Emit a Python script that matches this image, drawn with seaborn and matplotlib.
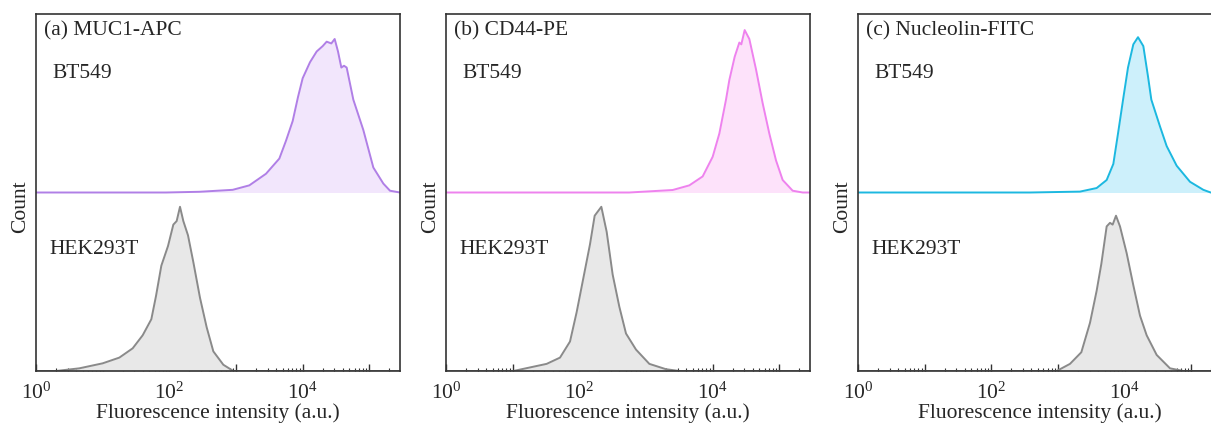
import numpy as np
import pandas as pd
import seaborn as sns
import matplotlib.pyplot as plt
from matplotlib.ticker import LogLocator, FuncFormatter, NullFormatter

sns.set_style('white')
plt.rcParams['font.family'] = ['Liberation Serif', 'DejaVu Serif']
plt.rcParams['mathtext.fontset'] = 'custom'
plt.rcParams['mathtext.rm'] = 'Liberation Serif'
plt.rcParams['mathtext.default'] = 'regular'

# curves: x as log10(intensity), y as relative count (0..1)
muc1_bt_x = [0.0, 1.0, 1.95, 2.45, 2.95, 3.20, 3.45, 3.65, 3.75, 3.85, 3.93, 4.00, 4.11, 4.21,
             4.30, 4.36, 4.43, 4.48, 4.53, 4.58, 4.62, 4.66, 4.76, 4.91, 5.06, 5.21, 5.31, 5.46]
muc1_bt_y = [0.0, 0.0, 0.0, 0.004, 0.015, 0.04, 0.105, 0.19, 0.29, 0.40, 0.535, 0.64, 0.73, 0.79,
             0.82, 0.845, 0.835, 0.86, 0.79, 0.70, 0.71, 0.70, 0.52, 0.35, 0.14, 0.05, 0.01, 0.0]
muc1_hek_x = [0.0, 0.30, 0.65, 1.00, 1.25, 1.45, 1.60, 1.73, 1.80, 1.88, 1.98, 2.06, 2.11, 2.16,
              2.21, 2.28, 2.36, 2.46, 2.56, 2.66, 2.81, 2.96, 5.46]
muc1_hek_y = [0.0, 0.0, 0.015, 0.043, 0.075, 0.127, 0.20, 0.29, 0.42, 0.59, 0.70, 0.82, 0.84, 0.92,
              0.84, 0.76, 0.61, 0.41, 0.245, 0.11, 0.035, 0.0, 0.0]

cd44_bt_x = [0.0, 2.75, 3.40, 3.65, 3.85, 4.00, 4.10, 4.20, 4.25, 4.33, 4.40, 4.43, 4.48, 4.55,
             4.65, 4.75, 4.85, 4.95, 5.05, 5.20, 5.35, 5.46]
cd44_bt_y = [0.0, 0.0, 0.014, 0.04, 0.09, 0.20, 0.33, 0.52, 0.63, 0.76, 0.84, 0.83, 0.91, 0.86,
             0.69, 0.50, 0.33, 0.18, 0.07, 0.01, 0.0, 0.0]
cd44_hek_x = [0.0, 1.01, 1.51, 1.71, 1.86, 1.96, 2.06, 2.16, 2.23, 2.33, 2.41, 2.50, 2.60, 2.70,
              2.85, 3.05, 3.30, 3.50, 5.46]
cd44_hek_y = [0.0, 0.0, 0.04, 0.075, 0.165, 0.33, 0.52, 0.71, 0.87, 0.92, 0.78, 0.54, 0.36, 0.21,
              0.12, 0.04, 0.01, 0.0, 0.0]

ncl_bt_x = [0.0, 2.58, 3.33, 3.58, 3.73, 3.83, 3.90, 3.98, 4.05, 4.13, 4.20, 4.28, 4.35, 4.40,
            4.53, 4.63, 4.78, 4.98, 5.18, 5.29, 5.46]
ncl_bt_y = [0.0, 0.0, 0.005, 0.025, 0.07, 0.16, 0.33, 0.53, 0.70, 0.83, 0.87, 0.82, 0.65, 0.52,
            0.37, 0.26, 0.15, 0.06, 0.015, 0.0, 0.0]
ncl_hek_x = [0.0, 2.98, 3.18, 3.35, 3.48, 3.58, 3.65, 3.73, 3.78, 3.82, 3.87, 3.93, 4.03, 4.13,
             4.23, 4.33, 4.48, 4.68, 4.88, 5.46]
ncl_hek_y = [0.0, 0.0, 0.04, 0.105, 0.27, 0.45, 0.60, 0.81, 0.83, 0.82, 0.87, 0.81, 0.66, 0.48,
             0.31, 0.20, 0.09, 0.015, 0.0, 0.0]

panel_titles = ['(a) MUC1-APC', '(b) CD44-PE', '(c) Nucleolin-FITC']
line_colors = ['#b07fe6', '#ee82ee', '#1cb8e0']
fill_colors = ['#f2e6fc', '#fde2fa', '#cdf0fb']
gray_line, gray_fill = '#8a8a8a', '#e8e8e8'

panels = [(muc1_bt_x, muc1_bt_y, muc1_hek_x, muc1_hek_y),
          (cd44_bt_x, cd44_bt_y, cd44_hek_x, cd44_hek_y),
          (ncl_bt_x, ncl_bt_y, ncl_hek_x, ncl_hek_y)]

fig = plt.figure(figsize=(12.11, 4.25), dpi=100)
lefts = [36 / 1211, 446 / 1211, 858 / 1211]
for i, (btx, bty, hkx, hky) in enumerate(panels):
    ax = fig.add_axes([lefts[i], 54 / 425, 364 / 1211, 357 / 425])
    top = pd.DataFrame({'x': 10 ** np.array(btx), 'y': 1 + np.array(bty)})
    low = pd.DataFrame({'x': 10 ** np.array(hkx), 'y': np.array(hky)})
    ax.fill_between(top['x'], 1, top['y'], color=fill_colors[i], lw=0)
    ax.fill_between(low['x'], 0, low['y'], color=gray_fill, lw=0)
    sns.lineplot(data=top, x='x', y='y', ax=ax, color=line_colors[i], lw=1.4, sort=False)
    sns.lineplot(data=low, x='x', y='y', ax=ax, color=gray_line, lw=1.4, sort=False)
    ax.set_xscale('log')
    ax.set_xlim(1, 10 ** 5.46)
    ax.set_ylim(0, 2)
    ax.set_yticks([])
    ax.xaxis.set_major_locator(LogLocator(base=10, numticks=10))
    ax.xaxis.set_minor_locator(LogLocator(base=10, subs=np.arange(2, 10), numticks=20))
    ax.xaxis.set_major_formatter(FuncFormatter(
        lambda v, p: '$10^{%d}$' % round(np.log10(v)) if round(np.log10(v)) % 2 == 0 else ''))
    ax.xaxis.set_minor_formatter(NullFormatter())
    ax.tick_params(axis='x', which='major', direction='in', length=5, width=1, color='#333333',
                   labelsize=15.5, pad=8, bottom=True)
    ax.tick_params(axis='x', which='minor', direction='in', length=2.5, width=0.8,
                   color='#333333', bottom=True)
    for s in ax.spines.values():
        s.set_color('#333333')
        s.set_linewidth(1.2)
    ax.set_xlabel('Fluorescence intensity (a.u.)', fontsize=15.5, labelpad=0)
    ax.set_ylabel('Count', fontsize=15.5)
    ax.yaxis.set_label_coords(-0.015, 0.46)
    ax.text(0.022, 0.953, panel_titles[i], transform=ax.transAxes, fontsize=15.5,
            va='center', ha='left')
    ax.text(0.045, 0.832, 'BT549', transform=ax.transAxes, fontsize=15.5, va='center', ha='left')
    ax.text(0.038, 0.339, 'HEK293T', transform=ax.transAxes, fontsize=15.5, va='center', ha='left')

fig.savefig('out.png', dpi=100)
